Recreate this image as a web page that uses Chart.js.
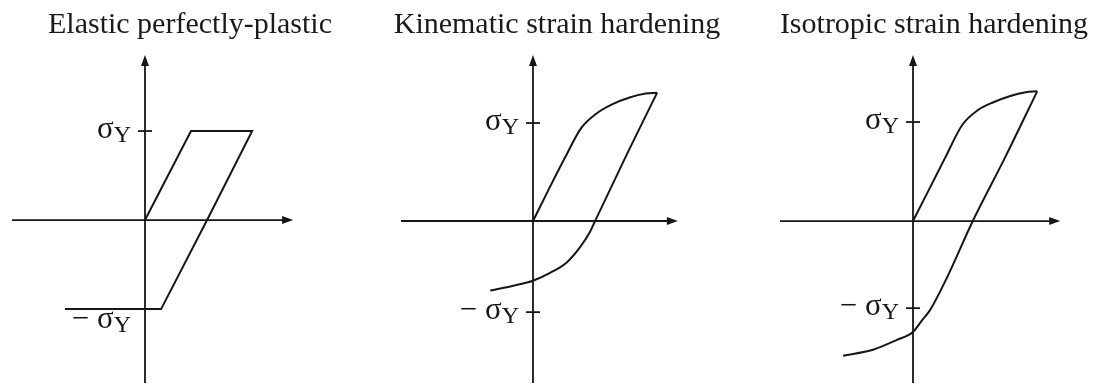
<!DOCTYPE html>
<html>
<head>
<meta charset="utf-8">
<script src="https://cdn.jsdelivr.net/npm/chart.js@4.4.0/dist/chart.umd.min.js"></script>
<style>
  html, body { margin: 0; padding: 0; background: #fff; }
  #wrap { position: relative; width: 1094px; height: 385px; overflow: hidden; background: #fff; }
  .panel { position: absolute; top: 0; height: 385px; }
</style>
</head>
<body>
<div id="wrap">
  <div class="panel" style="left:0px;width:380px"><canvas id="c0" width="380" height="385"></canvas></div>
  <div class="panel" style="left:380px;width:354px"><canvas id="c1" width="354" height="385"></canvas></div>
  <div class="panel" style="left:774px;width:320px"><canvas id="c2" width="320" height="385"></canvas></div>
</div>
<script>
// Stress is normalised by the yield stress (σ/σY), strain by an arbitrary unit
const titles = ["Elastic perfectly-plastic", "Kinematic strain hardening", "Isotropic strain hardening"];

// elastic perfectly-plastic: load, plateau, elastic unload, reverse plateau
const epStrain = [0, 1, 2.33, 1.35, 0.35, -1.74];
const epStress = [0, 1, 1, 0, -1, -1];

// kinematic hardening
const kinLoadStrain   = [0, 0.35, 0.70, 1.05, 1.39, 1.72, 2.10, 2.45, 2.70];
const kinLoadStress   = [0, 0.33, 0.65, 0.95, 1.10, 1.19, 1.26, 1.30, 1.31];
const kinUnloadStrain = [2.70, 2.04, 1.35, 1.24, 1.02, 0.74, 0.37, 0, -0.43, -0.93];
const kinUnloadStress = [1.31, 0.68, 0, -0.11, -0.27, -0.42, -0.53, -0.61, -0.66, -0.71];

// isotropic hardening
const isoLoadStrain   = [0, 0.35, 0.70, 1.07, 1.41, 1.75, 2.10, 2.45, 2.70];
const isoLoadStress   = [0, 0.32, 0.64, 0.97, 1.12, 1.20, 1.26, 1.30, 1.31];
const isoUnloadStrain = [2.70, 2.00, 1.30, 0.74, 0.37, 0.20, 0, -0.35, -0.87, -1.52];
const isoUnloadStress = [1.31, 0.64, 0, -0.57, -0.90, -1.00, -1.12, -1.20, -1.30, -1.36];

// ±σY marks on the stress axis
const yieldTicks = [[1, -1], [1, -0.93], [1, -0.88]];
const tickLabels = [["σ", "Y"], ["− σ", "Y"]];

const ink = "#161616";

function pts(xs, ys) { return xs.map((x, i) => ({ x: x, y: ys[i] })); }

// axes through the origin, arrowheads, yield ticks with subscript labels
const crossAxes = {
  id: "crossAxes",
  beforeDatasetsDraw(chart, args, opts) {
    const { ctx, chartArea: a } = chart;
    const sx = chart.scales.x, sy = chart.scales.y;
    const x0 = sx.getPixelForValue(0), y0 = sy.getPixelForValue(0);
    const xl = sx.getPixelForValue(opts.strainAxis[0]);
    const xr = sx.getPixelForValue(opts.strainAxis[1]);
    ctx.save();
    ctx.strokeStyle = ink;
    ctx.fillStyle = ink;
    ctx.lineWidth = 1.8;
    ctx.beginPath();
    ctx.moveTo(xl, y0); ctx.lineTo(xr - 6, y0);
    ctx.moveTo(x0, a.bottom); ctx.lineTo(x0, a.top + 6);
    ctx.stroke();

    ctx.beginPath();
    ctx.moveTo(xr, y0); ctx.lineTo(xr - 11, y0 - 4); ctx.lineTo(xr - 11, y0 + 4); ctx.closePath();
    ctx.moveTo(x0, a.top); ctx.lineTo(x0 - 4, a.top + 11); ctx.lineTo(x0 + 4, a.top + 11); ctx.closePath();
    ctx.fill();

    opts.ticks.forEach((v, i) => {
      const ty = sy.getPixelForValue(v);
      ctx.beginPath();
      ctx.moveTo(x0 - 7, ty); ctx.lineTo(x0 + 7, ty);
      ctx.stroke();

      const [main, sub] = tickLabels[i];
      const drop = opts.drops[i] || 0;
      ctx.textBaseline = "alphabetic";
      ctx.textAlign = "left";
      ctx.font = "24px 'Liberation Serif'";
      const subW = ctx.measureText(sub).width;
      ctx.font = "31px 'Liberation Serif'";
      const mainW = ctx.measureText(main).width;
      const right = x0 - 14;
      ctx.fillText(main, right - subW - mainW, ty + 7 + drop);
      ctx.font = "24px 'Liberation Serif'";
      ctx.fillText(sub, right - subW, ty + 11 + drop);
    });
    ctx.restore();
  }
};

const panels = [
  { series: [pts(epStrain, epStress)], smooth: false,
    x: [-3.152, 5.109], axis: [-2.89, 3.22], y: [-1.83, 1.854], drops: [0, 12] },
  { series: [pts(kinLoadStrain, kinLoadStress), pts(kinUnloadStrain, kinUnloadStress)], smooth: true,
    x: [-3.326, 4.370], axis: [-2.87, 3.15], y: [-1.653, 1.694], drops: [0, 0] },
  { series: [pts(isoLoadStrain, isoLoadStress), pts(isoUnloadStrain, isoUnloadStress)], smooth: true,
    x: [-3.022, 3.935], axis: [-2.89, 3.20], y: [-1.636, 1.677], drops: [0, 0] }
];

panels.forEach((p, i) => {
  new Chart(document.getElementById("c" + i), {
    type: "scatter",
    data: {
      datasets: p.series.map(d => ({
        data: d,
        showLine: true,
        borderColor: ink,
        borderWidth: 2,
        pointRadius: 0,
        fill: false,
        clip: false,
        cubicInterpolationMode: p.smooth ? "monotone" : "default",
        tension: 0
      }))
    },
    options: {
      responsive: false,
      animation: false,
      devicePixelRatio: 1,
      layout: { autoPadding: false, padding: { left: 0, right: 0, top: 0, bottom: 2 } },
      plugins: {
        legend: { display: false },
        tooltip: { enabled: false },
        title: {
          display: true,
          text: titles[i],
          color: "#1a1a1a",
          font: { family: "'Liberation Serif'", size: 30, weight: "normal", lineHeight: 1.2 },
          padding: { top: 7, bottom: 12 }
        },
        crossAxes: { ticks: yieldTicks[i], drops: p.drops, strainAxis: p.axis }
      },
      scales: {
        x: { type: "linear", display: false, min: p.x[0], max: p.x[1] },
        y: { type: "linear", display: false, min: p.y[0], max: p.y[1] }
      }
    },
    plugins: [crossAxes]
  });
});
</script>
</body>
</html>
